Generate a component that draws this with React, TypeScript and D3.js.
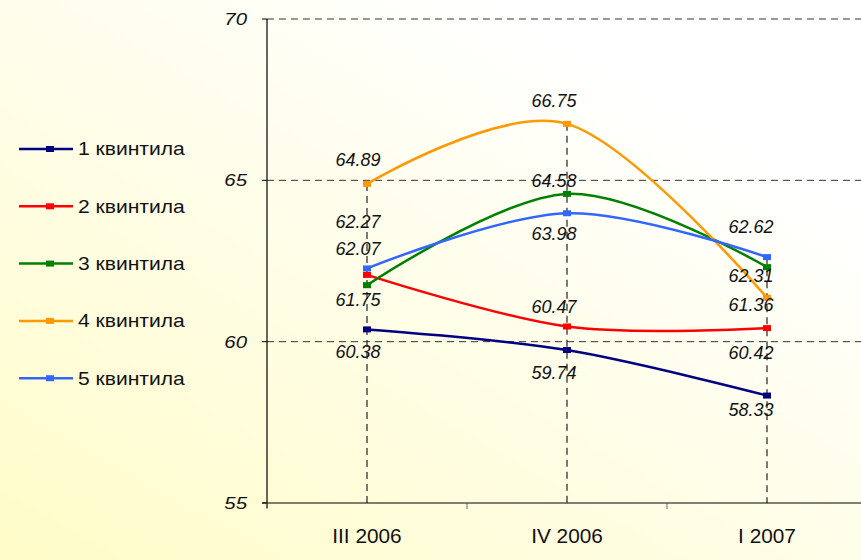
import React from 'react';
import * as d3 from 'd3';

const categories = ['III 2006', 'IV 2006', 'I 2007'];
const seriesNames = ['1 квинтила', '2 квинтила', '3 квинтила', '4 квинтила', '5 квинтила'];
const q1 = [60.38, 59.74, 58.33];
const q2 = [62.07, 60.47, 60.42];
const q3 = [61.75, 64.58, 62.31];
const q4 = [64.89, 66.75, 61.36];
const q5 = [62.27, 63.98, 62.62];
const yTicks = [55, 60, 65, 70];

const colors = ['#000080', '#FF0000', '#008000', '#FF9900', '#3366FF'];
// label offsets (px) relative to each point, per series
const labelDy = [
  [22, 22, 14],
  [-26, -20, 24],
  [14, -13, 8],
  [-24, -23, 7],
  [-47, 20, -31],
];
const labelDx = [-9, -13, -16];

const width = 861;
const height = 560;
const margin = { top: 19, right: -6, bottom: 57, left: 267 };

const font = '"Liberation Sans", Arial, sans-serif';

// text that is stretched horizontally like the original picture
const Txt = ({ x, y, sx = 1, size, anchor = 'start', italic = false, children }) => (
  <text transform={`translate(${x},${y}) scale(${sx},1)`} dy="0.36em" textAnchor={anchor}
    fontFamily={font} fontStyle={italic ? 'italic' : 'normal'} fontSize={size} fill="#111">
    {children}
  </text>
);

const App = () => {
  const series = [q1, q2, q3, q4, q5];

  const x = d3.scaleBand()
    .domain(categories)
    .range([margin.left, width - margin.right]);

  const y = d3.scaleLinear()
    .domain([55, 70])
    .range([height - margin.bottom, margin.top]);

  const cx = (c) => x(c) + x.bandwidth() / 2;

  const line = d3.line()
    .x((d, i) => cx(categories[i]))
    .y(d => y(d))
    .curve(d3.curveCardinal.tension(0));

  const y0 = y(55);

  return (
    <svg width={width} height={height} style={{ position: 'absolute', left: 0, top: 0 }}>
      <defs>
        <linearGradient id="bg" x1="0" y1="1" x2="0.75" y2="0.15">
          <stop offset="0" stopColor="#FFFCC8" />
          <stop offset="1" stopColor="#FFFFFF" />
        </linearGradient>
      </defs>
      <rect x={0} y={0} width={width} height={height} fill="url(#bg)" />

      {/* horizontal gridlines */}
      {yTicks.filter(t => t > 55).map(t => (
        <line key={t} x1={margin.left} x2={width} y1={y(t)} y2={y(t)}
          stroke="#333" strokeWidth={1} strokeDasharray="7,5" />
      ))}

      {/* drop lines */}
      {categories.map((c, i) => {
        const top = d3.max(series, s => s[i]);
        return (
          <line key={c} x1={cx(c)} x2={cx(c)} y1={y(top)} y2={y0}
            stroke="#222" strokeWidth={1.2} strokeDasharray="7,5" />
        );
      })}

      {/* axes */}
      <line x1={margin.left} x2={margin.left} y1={y(70)} y2={y0 + 5} stroke="#000" strokeWidth={1.2} />
      {yTicks.map(t => (
        <g key={t}>
          <line x1={margin.left - 5} x2={margin.left} y1={y(t)} y2={y(t)} stroke="#000" strokeWidth={1} />
          <Txt x={margin.left - 20} y={y(t)} sx={1.2} size={17} anchor="end" italic>{t}</Txt>
        </g>
      ))}
      <line x1={margin.left - 5} x2={width} y1={y0} y2={y0} stroke="#000" strokeWidth={1.2} />
      {categories.map(c => (
        <g key={c}>
          <line x1={x(c)} x2={x(c)} y1={y0} y2={y0 + 6} stroke="#666" strokeWidth={1} />
          <Txt x={cx(c)} y={y0 + 33} sx={1.04} size={20} anchor="middle">{c}</Txt>
        </g>
      ))}

      {/* series */}
      {series.map((s, k) => (
        <g key={k}>
          <path d={line(s)} fill="none" stroke={colors[k]} strokeWidth={2.5} />
          {s.map((v, i) => (
            <rect key={i} x={cx(categories[i]) - 4} y={y(v) - 3} width={8} height={6} fill={colors[k]} />
          ))}
        </g>
      ))}

      {/* data labels */}
      {series.map((s, k) => s.map((v, i) => (
        <Txt key={`${k}-${i}`} x={cx(categories[i]) + labelDx[i]} y={y(v) + labelDy[k][i]}
          size={18} anchor="middle" italic>
          {v.toFixed(2)}
        </Txt>
      )))}

      {/* legend */}
      {seriesNames.map((n, k) => {
        const ly = 149 + k * 57.3;
        return (
          <g key={n}>
            <line x1={19} x2={73} y1={ly} y2={ly} stroke={colors[k]} strokeWidth={2.5} />
            <rect x={46} y={ly - 3} width={8} height={6} fill={colors[k]} />
            <Txt x={78} y={ly} sx={1.17} size={18}>{n}</Txt>
          </g>
        );
      })}
    </svg>
  );
};

export default App;
